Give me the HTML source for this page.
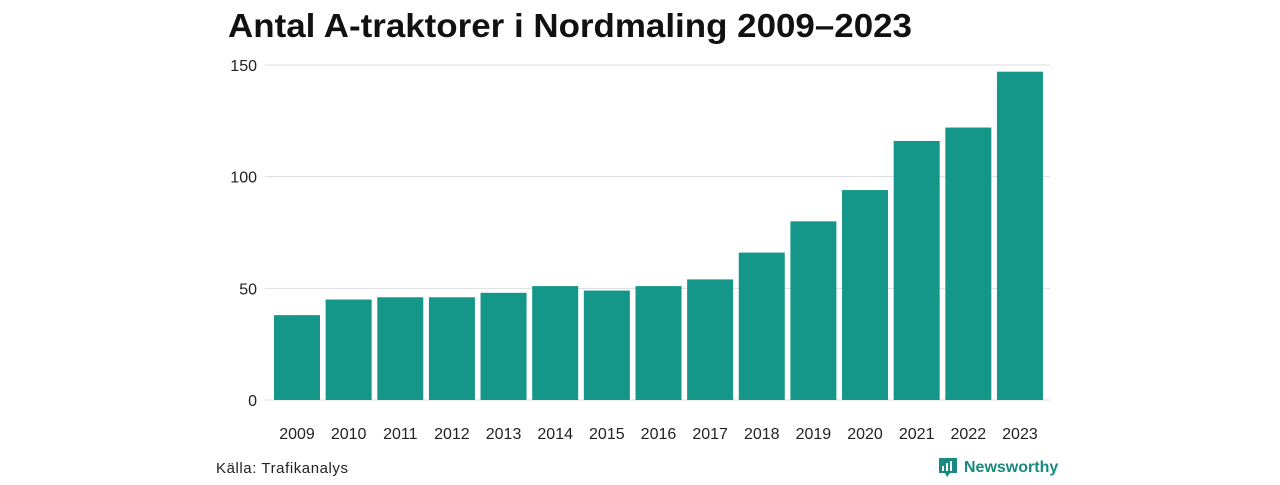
<!DOCTYPE html>
<html><head><meta charset="utf-8"><style>
body{margin:0;width:1280px;height:480px;background:#fff;font-family:"Liberation Sans",sans-serif;overflow:hidden}
</style></head><body>
<svg width="1280" height="480">
<text x="228" y="37" font-size="33" font-weight="bold" fill="#111" textLength="684" lengthAdjust="spacingAndGlyphs">Antal A-traktorer i Nordmaling 2009–2023</text>
<g id="grid"></g><g id="bars"></g><g id="xlabels"></g>
<text x="216" y="473" font-size="15" fill="#222" textLength="132">Källa: Trafikanalys</text>
<g>
<path d="M939 458h18v15h-7l-3 4-2-4h-6z" fill="#1a8a80"/>
<rect x="942" y="466" width="2" height="5" fill="#fff"/><rect x="946" y="463" width="2" height="8" fill="#fff"/><rect x="950" y="461" width="2" height="10" fill="#fff"/>
<text x="964" y="472" font-size="16" font-weight="bold" fill="#1a8a80">Newsworthy</text>
</g>
</svg>
<script>
const years=["2009","2010","2011","2012","2013","2014","2015","2016","2017","2018","2019","2020","2021","2022","2023"];
const values=[38,45,46,46,48,51,49,51,54,66,80,94,116,122,147];
const ticks=[0,50,100,150];
const ns="http://www.w3.org/2000/svg";
const y0=400,ppu=335/150,x0=274,pitch=51.64,bw=46;
const yS=v=>y0-v*ppu, xS=i=>x0+i*pitch;
const g=document.getElementById('grid'),b=document.getElementById('bars'),xl=document.getElementById('xlabels');
function mk(t,a,p){const e=document.createElementNS(ns,t);for(const k in a)e.setAttribute(k,a[k]);p.appendChild(e);return e;}
ticks.forEach(t=>{
 const l=mk('line',{x1:265,x2:1050,y1:yS(t),y2:yS(t),stroke:'#dcdde3','stroke-width':1},g);
 
 
 const tx=mk('text',{x:257,y:yS(t)+6,'text-anchor':'end','font-size':16,fill:'#222'},g);
 tx.textContent=t;
 
 
});
values.forEach((v,i)=>{
 const r=mk('rect',{x:xS(i),y:yS(v),width:bw,height:v*ppu,fill:'#149688'},b);
 
 
 const t=mk('text',{x:xS(i)+bw/2,y:439,'text-anchor':'middle','font-size':16,fill:'#222'},xl);
 t.textContent=years[i];
 
 
});
</script>
</body></html>
